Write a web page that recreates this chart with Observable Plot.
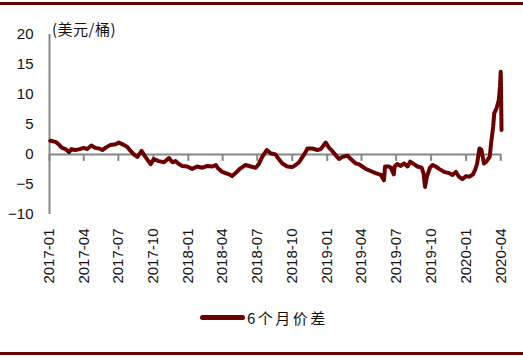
<!DOCTYPE html>
<html><head><meta charset="utf-8">
<script src="https://cdn.jsdelivr.net/npm/d3@7"></script>
<script src="https://cdn.jsdelivr.net/npm/@observablehq/plot@0.6"></script>
<style>
body{margin:0;background:#fff;width:523px;height:358px;position:relative;overflow:hidden;font-family:"Liberation Sans",Arial,sans-serif}
#topb{position:absolute;left:0;top:2px;width:523px;height:3px;background:#6b0000}
#botb{position:absolute;left:0;top:352px;width:523px;height:3px;background:#6b0000}
#chart{position:absolute;left:0;top:0}
#unit{position:absolute;left:52px;top:20px;font-size:15px;font-family:"Noto Sans CJK SC";color:#111;line-height:17px;letter-spacing:0.5px}
#legend{position:absolute;left:200px;top:307px;display:flex;align-items:center;font-family:"Noto Sans CJK SC";font-size:15px;color:#111;letter-spacing:2.5px}
#legend .sw{width:45px;height:5px;border-radius:2.5px;background:#6b0000;margin-right:2px}
</style></head>
<body>
<div id="topb"></div>
<div id="chart"></div>
<div id="unit">(美元/桶)</div>
<div id="legend"><div class="sw"></div><span>6个月价差</span></div>
<div id="botb"></div>
<script>
const seriesName = "6个月价差";
const dates = ["2017-01-03","2017-01-17","2017-01-25","2017-02-03","2017-02-12","2017-02-21","2017-02-28","2017-03-10","2017-03-19","2017-04-01","2017-04-10","2017-04-21","2017-05-02","2017-05-11","2017-05-20","2017-05-28","2017-06-10","2017-06-24","2017-07-02","2017-07-15","2017-07-24","2017-08-02","2017-08-11","2017-08-20","2017-08-31","2017-09-10","2017-09-24","2017-10-02","2017-10-15","2017-10-29","2017-11-11","2017-11-20","2017-11-28","2017-12-07","2017-12-16","2017-12-29","2018-01-11","2018-01-24","2018-02-07","2018-02-20","2018-03-05","2018-03-14","2018-03-20","2018-03-31","2018-04-09","2018-04-18","2018-04-26","2018-05-05","2018-05-18","2018-05-31","2018-06-14","2018-06-27","2018-07-05","2018-07-14","2018-07-26","2018-08-05","2018-08-18","2018-08-27","2018-09-05","2018-09-18","2018-10-01","2018-10-10","2018-10-19","2018-10-28","2018-11-05","2018-11-10","2018-11-23","2018-12-06","2018-12-15","2018-12-28","2019-01-06","2019-01-14","2019-01-23","2019-02-01","2019-02-10","2019-02-23","2019-03-04","2019-03-17","2019-03-25","2019-04-03","2019-04-12","2019-04-25","2019-05-08","2019-05-22","2019-05-30","2019-06-02","2019-06-12","2019-06-17","2019-06-25","2019-06-27","2019-07-04","2019-07-13","2019-07-22","2019-07-31","2019-08-07","2019-08-17","2019-08-26","2019-09-06","2019-09-11","2019-09-15","2019-09-20","2019-09-28","2019-10-05","2019-10-13","2019-10-22","2019-11-04","2019-11-17","2019-11-26","2019-12-05","2019-12-13","2019-12-22","2020-01-01","2020-01-10","2020-01-19","2020-01-25","2020-01-30","2020-02-05","2020-02-10","2020-02-17","2020-02-23","2020-03-03","2020-03-07","2020-03-12","2020-03-15","2020-03-21","2020-03-27","2020-03-30","2020-04-01","2020-04-02","2020-04-03"];
const spread = [2.3,2.1,1.7,1.1,0.9,0.4,0.9,0.75,0.85,1.1,0.9,1.5,1.1,1.0,0.75,1.1,1.6,1.7,2.0,1.6,1.3,0.6,0.0,-0.4,0.6,-0.4,-1.6,-0.75,-1.1,-1.3,-0.6,-1.3,-1.1,-1.6,-1.9,-2.0,-2.4,-2.0,-2.2,-1.9,-2.0,-1.75,-2.3,-2.9,-3.1,-3.3,-3.6,-3.1,-2.3,-1.75,-2.0,-2.2,-1.6,-0.4,0.75,0.2,0.0,-0.8,-1.5,-2.0,-2.1,-1.75,-1.3,-0.4,0.4,1.0,1.0,0.75,0.9,2.0,1.1,0.6,-0.1,-0.75,-0.4,-0.2,-0.75,-1.5,-1.6,-2.0,-2.4,-2.75,-3.1,-3.4,-4.3,-2.0,-2.0,-2.2,-3.3,-2.0,-1.6,-1.9,-1.5,-2.0,-1.2,-1.6,-2.0,-2.2,-3.1,-5.4,-3.7,-2.2,-1.75,-2.0,-2.4,-2.9,-3.1,-3.4,-2.9,-3.7,-4.1,-3.6,-3.7,-3.3,-2.5,-1.5,1.0,0.8,-1.5,-1.2,-0.4,2.1,4.6,6.9,7.7,9.1,11.3,13.8,10.2,4.1];
const tickLabels = ["2017-01","2017-04","2017-07","2017-10","2018-01","2018-04","2018-07","2018-10","2019-01","2019-04","2019-07","2019-10","2020-01","2020-04"];
const yTicks = [-10,-5,0,5,10,15,20];
const xStart = "2017-01-01", xEnd = "2020-04-03";

const parse = d3.utcParse("%Y-%m-%d");
const data = dates.map((d,i)=>({date: parse(d), value: spread[i]}));
const tickDates = tickLabels.map(t=>parse(t+"-01"));
const gray = "#878787";
const red = "#6b0000";

const chart = Plot.plot({
  width: 523, height: 290,
  marginLeft: 49, marginRight: 22, marginTop: 34, marginBottom: 76,
  style: {fontFamily: "'Liberation Sans', Arial, sans-serif", fontSize: "15px", color: "#111", background: "transparent"},
  x: {type: "utc", domain: [parse(xStart), parse(xEnd)]},
  y: {domain: [-10, 20]},
  marks: [
    Plot.ruleY([0], {stroke: gray, strokeWidth: 2}),
    Plot.ruleX(tickDates, {x: d=>d, y1: 0, y2: -1.15, stroke: gray, strokeWidth: 2}),
    Plot.ruleX([parse(xStart)], {y1: -10, y2: 20, stroke: gray, strokeWidth: 2}),
    Plot.axisY({ticks: yTicks, tickSize: 0, tickPadding: 16, label: null}),
    Plot.axisX({ticks: tickDates, tickFormat: d3.utcFormat("%Y-%m"), tickRotate: -90, tickSize: 0, tickPadding: 14, label: null}),
    Plot.line(data, {x: "date", y: "value", stroke: red, strokeWidth: 4, strokeLinejoin: "round", strokeLinecap: "round"})
  ]
});
document.getElementById("chart").appendChild(chart);
</script>
</body></html>
